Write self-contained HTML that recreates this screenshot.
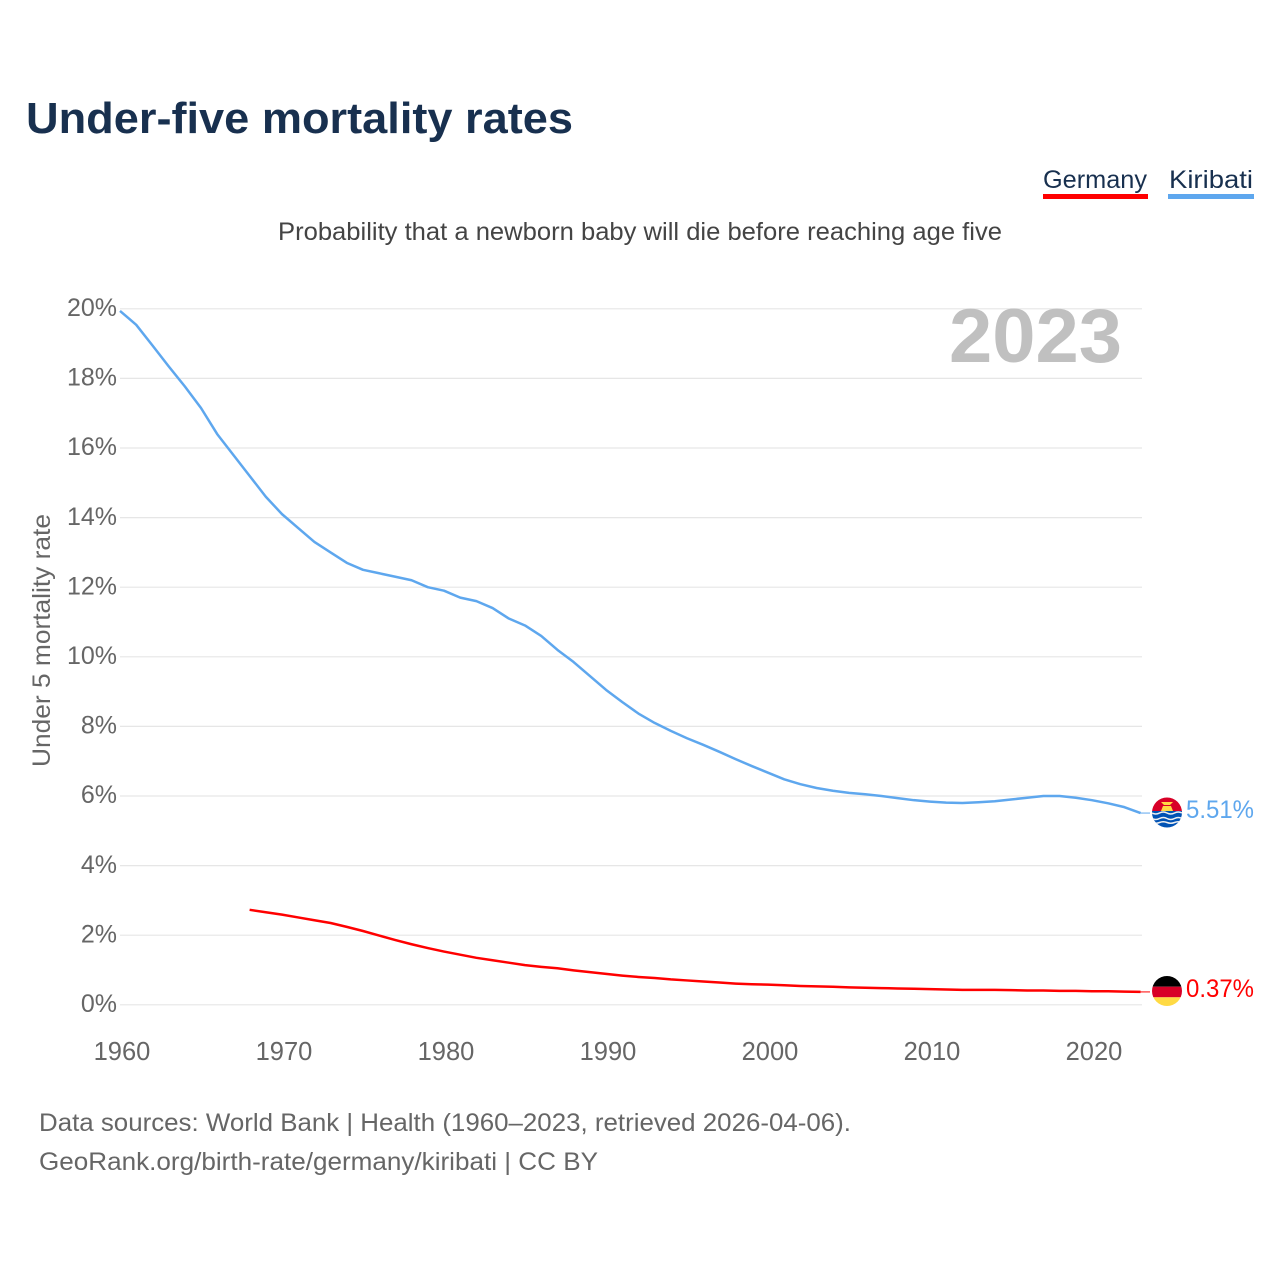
<!DOCTYPE html>
<html lang="en">
<head>
<meta charset="utf-8">
<title>Under-five mortality rates</title>
<style>
html,body{margin:0;padding:0;background:#fff;width:1280px;height:1280px;overflow:hidden}
svg{display:block;font-family:"Liberation Sans",sans-serif}
</style>
</head>
<body>
<svg id="chart" width="1280" height="1280" viewBox="0 0 1280 1280" xmlns="http://www.w3.org/2000/svg">
  <defs>
    <clipPath id="clip-ki"><circle cx="1167" cy="812.5" r="15"/></clipPath>
    <clipPath id="clip-de"><circle cx="1167" cy="991" r="15"/></clipPath>
  </defs>
  <rect width="1280" height="1280" fill="#fff"/>
  <text x="26" y="133" font-size="44" font-weight="700" fill="#18304f" textLength="547" lengthAdjust="spacingAndGlyphs">Under-five mortality rates</text>
  <text x="278" y="240" font-size="25" fill="#444" textLength="724" lengthAdjust="spacingAndGlyphs">Probability that a newborn baby will die before reaching age five</text>

  <g>
    <text x="1043" y="188" font-size="25" fill="#18304f" textLength="104" lengthAdjust="spacingAndGlyphs">Germany</text>
    <rect x="1043" y="194" width="105" height="5" fill="#ff0000"/>
  </g>
  <g>
    <text x="1169" y="188" font-size="25" fill="#18304f" textLength="84" lengthAdjust="spacingAndGlyphs">Kiribati</text>
    <rect x="1168" y="194" width="86" height="5" fill="#5ea7ee"/>
  </g>

  <g id="grid"></g>
  <g id="yticks"></g>
  <g id="xticks"></g>

  <text transform="translate(50,767) rotate(-90)" font-size="25" fill="#666" textLength="253" lengthAdjust="spacingAndGlyphs">Under 5 mortality rate</text>
  <text x="949" y="362" font-size="76" font-weight="700" fill="#c0c0c0" textLength="173" lengthAdjust="spacingAndGlyphs">2023</text>

  <g id="series"></g>

  <g clip-path="url(#clip-ki)">
    <rect x="1152" y="797" width="30" height="15" fill="#d80027"/>
    <path d="M1161 811 L1163 806 L1171 806 L1173 811 Z" fill="#ffda44"/>
    <path d="M1161 802 L1173 802 L1170 805 L1164 805 Z" fill="#ffda44"/>
    <rect x="1152" y="811" width="30" height="18" fill="#0052b4"/>
    <path d="M1152 813 q3.75 2 7.5 0 t7.5 0 t7.5 0 t7.5 0 M1152 818.5 q3.75 2 7.5 0 t7.5 0 t7.5 0 t7.5 0 M1152 822.5 q3.75 1.5 7.5 0 t7.5 0 t7.5 0 t7.5 0" fill="none" stroke="#f0f0f0" stroke-width="1.5"/>
  </g>
  <g clip-path="url(#clip-de)">
    <rect x="1152" y="976" width="30" height="10.7" fill="#000"/>
    <rect x="1152" y="986.7" width="30" height="10.6" fill="#d80027"/>
    <rect x="1152" y="997.3" width="30" height="9" fill="#ffda44"/>
  </g>

  <text id="value-kiribati" x="1186" y="818" font-size="25" fill="#5ea7ee" textLength="68" lengthAdjust="spacingAndGlyphs"></text>
  <text id="value-germany" x="1186" y="997" font-size="25" fill="#ff0000" textLength="68" lengthAdjust="spacingAndGlyphs"></text>

  <text x="39" y="1131" font-size="25" fill="#666" textLength="812" lengthAdjust="spacingAndGlyphs">Data sources: World Bank | Health (1960–2023, retrieved 2026-04-06).</text>
  <text x="39" y="1170" font-size="25" fill="#666" textLength="559" lengthAdjust="spacingAndGlyphs">GeoRank.org/birth-rate/germany/kiribati | CC BY</text>
</svg>

<script>
var kiribatiStartYear = 1960;
var germanyStartYear = 1968;
var kiribatiValues = [19.94,19.54,18.95,18.35,17.77,17.15,16.4,15.8,15.2,14.6,14.1,13.7,13.3,13.0,12.7,12.5,12.4,12.3,12.2,12.0,11.9,11.7,11.6,11.4,11.1,10.9,10.6,10.2,9.85,9.45,9.05,8.7,8.37,8.1,7.87,7.66,7.47,7.27,7.06,6.86,6.67,6.48,6.34,6.23,6.15,6.09,6.05,6.0,5.94,5.88,5.84,5.81,5.8,5.82,5.85,5.9,5.95,6.0,6.0,5.95,5.88,5.79,5.68,5.51];
var germanyValues = [2.73,2.66,2.59,2.51,2.43,2.35,2.24,2.12,1.99,1.86,1.74,1.63,1.53,1.44,1.35,1.28,1.21,1.14,1.09,1.05,0.99,0.94,0.89,0.84,0.8,0.77,0.73,0.7,0.67,0.64,0.61,0.59,0.58,0.56,0.54,0.53,0.52,0.5,0.49,0.48,0.47,0.46,0.45,0.44,0.43,0.43,0.43,0.42,0.41,0.41,0.4,0.4,0.39,0.39,0.38,0.37];
var yTickValues = [0,2,4,6,8,10,12,14,16,18,20];
var xTickValues = [1960,1970,1980,1990,2000,2010,2020];

var NS = 'http://www.w3.org/2000/svg';
function xScale(year) { return 120 + (year - 1960) * 16.2; }
function yScale(pct) { return 1004.8 - pct * 34.8; }
function svgEl(tag, parent) {
  var el = document.createElementNS(NS, tag);
  parent.appendChild(el);
  return el;
}

var grid = document.getElementById('grid');
var yticks = document.getElementById('yticks');
yTickValues.forEach(function (v) {
  var line = svgEl('line', grid);
  
  
  line.setAttribute('x1', 120);
  line.setAttribute('x2', 1142);
  line.setAttribute('y1', yScale(v));
  line.setAttribute('y2', yScale(v));
  line.setAttribute('stroke', '#e6e6e6');
  line.setAttribute('stroke-width', 1.2);
  var label = svgEl('text', yticks);
  
  
  label.setAttribute('x', 117);
  label.setAttribute('y', yScale(v) + 7.2);
  label.setAttribute('text-anchor', 'end');
  label.setAttribute('font-size', 25);
  label.setAttribute('fill', '#666');
  label.textContent = v + '%';
});

var xticks = document.getElementById('xticks');
xTickValues.forEach(function (year) {
  var label = svgEl('text', xticks);
  
  
  label.setAttribute('x', xScale(year) + 2);
  label.setAttribute('y', 1060);
  label.setAttribute('text-anchor', 'middle');
  label.setAttribute('font-size', 25.5);
  label.setAttribute('fill', '#666');
  label.textContent = year;
});

function linePath(values, startYear) {
  return values.map(function (v, i) {
    return (i ? 'L' : 'M') + xScale(startYear + i).toFixed(2) + ' ' + yScale(v).toFixed(2);
  }).join(' ');
}

var series = document.getElementById('series');

var kiribatiLine = svgEl('path', series);


kiribatiLine.setAttribute('d', linePath(kiribatiValues, kiribatiStartYear));
kiribatiLine.setAttribute('fill', 'none');
kiribatiLine.setAttribute('stroke', '#5ea7ee');
kiribatiLine.setAttribute('stroke-width', 2.5);
kiribatiLine.setAttribute('stroke-linejoin', 'round');

var germanyLine = svgEl('path', series);


germanyLine.setAttribute('d', linePath(germanyValues, germanyStartYear));
germanyLine.setAttribute('fill', 'none');
germanyLine.setAttribute('stroke', '#ff0000');
germanyLine.setAttribute('stroke-width', 2.5);
germanyLine.setAttribute('stroke-linejoin', 'round');

var kiribatiLast = kiribatiValues[kiribatiValues.length - 1];
var germanyLast = germanyValues[germanyValues.length - 1];

var kiribatiLead = svgEl('line', series);


kiribatiLead.setAttribute('x1', xScale(2023));
kiribatiLead.setAttribute('x2', 1150);
kiribatiLead.setAttribute('y1', yScale(kiribatiLast));
kiribatiLead.setAttribute('y2', yScale(kiribatiLast));
kiribatiLead.setAttribute('stroke', '#5ea7ee');
kiribatiLead.setAttribute('stroke-width', 1);

var germanyLead = svgEl('line', series);


germanyLead.setAttribute('x1', xScale(2023));
germanyLead.setAttribute('x2', 1150);
germanyLead.setAttribute('y1', yScale(germanyLast));
germanyLead.setAttribute('y2', yScale(germanyLast));
germanyLead.setAttribute('stroke', '#ff0000');
germanyLead.setAttribute('stroke-width', 1);

document.getElementById('value-kiribati').textContent = kiribatiLast.toFixed(2) + '%';
document.getElementById('value-germany').textContent = germanyLast.toFixed(2) + '%';
</script>
</body>
</html>
